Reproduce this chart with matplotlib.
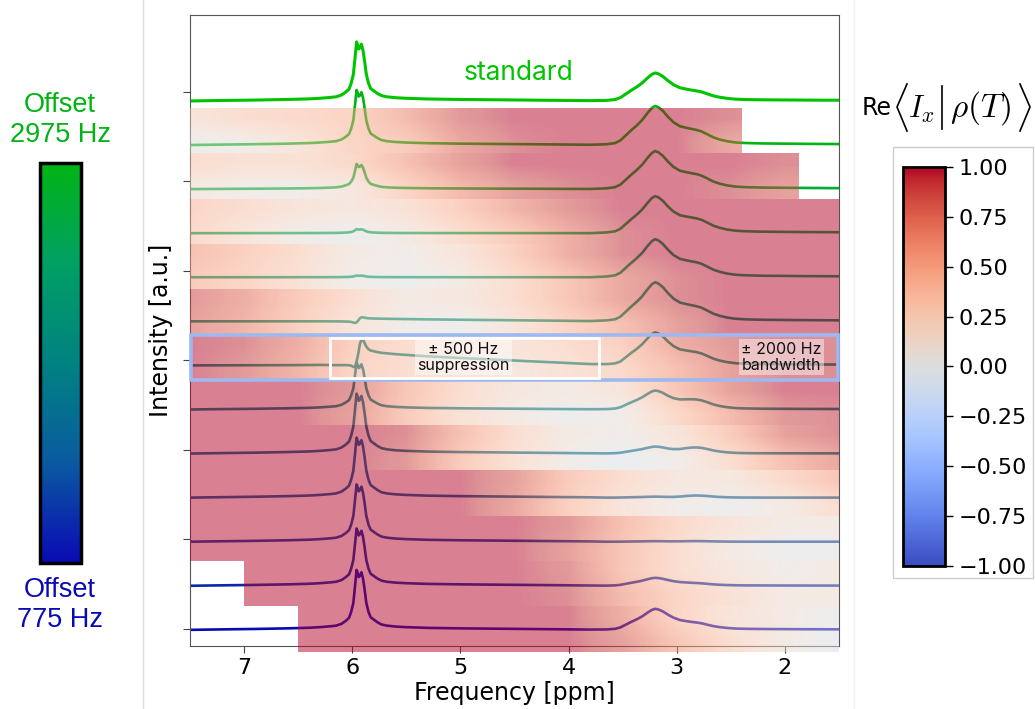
import numpy as np
import matplotlib
matplotlib.use("Agg")
import matplotlib.pyplot as plt
from matplotlib.colors import LinearSegmentedColormap, Normalize
from matplotlib.cm import ScalarMappable
from matplotlib.patches import Rectangle
from matplotlib.lines import Line2D

# ---- spectrum: ppm axis and line-shape components ----
ppm = [7.5, 7.2, 6.9, 6.6, 6.4, 6.3, 6.2, 6.15, 6.1, 6.06,
       6.03, 6.01, 5.99, 5.975, 5.96, 5.95, 5.94, 5.93, 5.915, 5.90,
       5.885, 5.87, 5.85, 5.83, 5.80, 5.77, 5.73, 5.68, 5.6, 5.5,
       5.3, 5.0, 4.7, 4.4, 4.1, 3.8, 3.65, 3.57, 3.52, 3.47,
       3.42, 3.37, 3.32, 3.27, 3.23, 3.20, 3.17, 3.13, 3.08, 3.03,
       2.97, 2.91, 2.86, 2.82, 2.77, 2.72, 2.66, 2.6, 2.53, 2.45,
       2.35, 2.2, 2.0, 1.8, 1.5]
# 5.9 ppm multiplet
peak_a = [0.0, 0.008, 0.015, 0.025, 0.035, 0.045, 0.06, 0.07, 0.1, 0.15,
          0.2, 0.3, 0.45, 0.72, 1.0, 0.95, 0.88, 0.9, 0.96, 0.85,
          0.66, 0.45, 0.3, 0.21, 0.17, 0.13, 0.09, 0.07, 0.055, 0.045,
          0.033, 0.025, 0.02, 0.015, 0.01, 0.005, 0, 0, 0, 0,
          0, 0, 0, 0, 0, 0, 0, 0, 0, 0,
          0, 0, 0, 0, 0, 0, 0, 0, 0, 0,
          0, 0, 0, 0, 0]
# dispersive part of the 5.9 ppm signal
disp_c = [0, 0, 0, 0, 0, 0, -0.02, -0.03, -0.05, -0.08,
          -0.13, -0.22, -0.4, -0.6, -0.45, -0.1, 0.3, 0.7, 0.95, 1.0,
          0.92, 0.86, 0.8, 0.78, 0.76, 0.74, 0.72, 0.7, 0.66, 0.62,
          0.54, 0.44, 0.35, 0.26, 0.17, 0.08, 0.04, 0.02, 0, 0,
          0, 0, 0, 0, 0, 0, 0, 0, 0, 0,
          0, 0, 0, 0, 0, 0, 0, 0, 0, 0,
          0, 0, 0, 0, 0]
# 3.2 ppm group
peak_b = [0, 0, 0, 0, 0, 0, 0, 0, 0, 0,
          0, 0, 0, 0, 0, 0, 0, 0, 0, 0,
          0, 0, 0, 0, 0, 0, 0, 0, 0, 0,
          0, 0, 0, 0, 0, 0, 0.02, 0.05, 0.12, 0.25,
          0.38, 0.5, 0.64, 0.82, 0.95, 1.0, 0.97, 0.88, 0.72, 0.56,
          0.4, 0.28, 0.2, 0.16, 0.13, 0.1, 0.08, 0.07, 0.06, 0.05,
          0.045, 0.04, 0.035, 0.03, 0.025]
# 2.8 ppm shoulder
peak_d = [0, 0, 0, 0, 0, 0, 0, 0, 0, 0,
          0, 0, 0, 0, 0, 0, 0, 0, 0, 0,
          0, 0, 0, 0, 0, 0, 0, 0, 0, 0,
          0, 0, 0, 0, 0, 0, 0, 0, 0, 0,
          0, 0, 0, 0, 0, 0, 0, 0, 0, 0.1,
          0.35, 0.7, 0.92, 1.0, 0.95, 0.78, 0.5, 0.3, 0.15, 0.06,
          0.02, 0, 0, 0, 0]

# ---- traces: standard first, then pulse offsets (Hz) ----
offsets_hz = [2975, 2775, 2575, 2375, 2175, 1975, 1775, 1575, 1375, 1175, 975, 775]
amp_a = [0.66, 0.615, 0.28, 0.045, 0.019, 0.006, 0.123, 0.525, 0.67, 0.67, 0.64, 0.64, 0.67]
amp_c = [0, 0, 0, 0, 0, 0.04, 0.18, 0, 0, 0, 0, 0, 0]
amp_b = [0.313, 0.436, 0.425, 0.413, 0.425, 0.436, 0.369, 0.212, 0.078, 0.011, 0.006, 0.089, 0.235]
amp_d = [0.063, 0.1, 0.1, 0.1, 0.1, 0.1, 0.09, 0.078, 0.056, 0.022, 0.006, 0.017, 0.045]
top_baseline = 5.90
row_step = 0.4925

# ---- Re<Ix|rho(T)> bands (top edge / bottom edge of each band) ----
band_ppm = [7.5, 7.0, 6.5, 6.0, 5.5, 5.0, 4.5, 4.0, 3.5, 3.0, 2.5, 2.0, 1.5]
band_top_vals = [
    [0.2, 0.3, 0.35, 0.4, 0.65, 0.9, 1.0, 1.0, 1.0, 1.0, 0.95, 0.9, 0.9],
    [0.3, 0.25, 0.25, 0.35, 0.6, 0.85, 1.0, 1.0, 1.0, 1.0, 1.0, 0.95, 0.95],
    [0.4, 0.3, 0.2, 0.15, 0.25, 0.45, 0.7, 0.9, 1.0, 1.0, 1.0, 1.0, 1.0],
    [0.6, 0.45, 0.3, 0.1, 0.05, 0.2, 0.45, 0.75, 0.95, 1.0, 1.0, 1.0, 1.0],
    [0.9, 0.75, 0.5, 0.3, 0.1, 0.15, 0.3, 0.55, 0.8, 0.95, 1.0, 1.0, 1.0],
    [1.0, 0.95, 0.75, 0.45, 0.3, 0.2, 0.2, 0.3, 0.45, 0.75, 0.9, 0.95, 0.95],
    [1.0, 1.0, 1.0, 0.9, 0.55, 0.3, 0.15, 0.1, 0.2, 0.55, 0.85, 1.0, 1.0],
    [1.0, 1.0, 1.0, 1.0, 0.95, 0.6, 0.3, 0.1, 0.05, 0.2, 0.5, 0.85, 0.95],
    [1.0, 1.0, 1.0, 1.0, 1.0, 1.0, 0.85, 0.5, 0.3, 0.15, 0.15, 0.35, 0.55],
    [1.0, 1.0, 1.0, 1.0, 1.0, 1.0, 1.0, 0.9, 0.6, 0.35, 0.2, 0.1, 0.1],
    [1.0, 1.0, 1.0, 1.0, 1.0, 1.0, 1.0, 0.9, 0.55, 0.3, 0.15, 0.05, 0.1],
    [1.0, 1.0, 1.0, 1.0, 1.0, 1.0, 1.0, 1.0, 0.75, 0.4, 0.2, 0.1, 0.0],
]
band_bot_vals = [
    [0.0, 0.05, 0.2, 0.4, 0.5, 0.8, 0.95, 1.0, 1.0, 1.0, 0.8, 0.7, 0.7],
    [0.1, 0.05, 0.05, 0.15, 0.4, 0.65, 0.85, 0.95, 1.0, 1.0, 0.95, 0.85, 0.85],
    [0.35, 0.2, 0.05, 0.0, 0.1, 0.3, 0.5, 0.75, 0.95, 1.0, 1.0, 1.0, 1.0],
    [0.5, 0.4, 0.25, 0.05, 0.0, 0.1, 0.3, 0.55, 0.8, 0.95, 1.0, 1.0, 1.0],
    [0.85, 0.7, 0.45, 0.2, 0.05, 0.0, 0.2, 0.4, 0.6, 0.85, 1.0, 1.0, 1.0],
    [1.0, 0.9, 0.7, 0.4, 0.3, 0.2, 0.15, 0.25, 0.35, 0.6, 0.85, 0.95, 0.95],
    [1.0, 1.0, 1.0, 0.85, 0.5, 0.25, 0.1, 0.0, 0.05, 0.35, 0.65, 0.9, 0.95],
    [1.0, 1.0, 1.0, 1.0, 0.9, 0.5, 0.25, 0.05, -0.05, 0.05, 0.3, 0.6, 0.8],
    [1.0, 1.0, 1.0, 1.0, 1.0, 1.0, 0.8, 0.45, 0.2, 0.05, 0.0, 0.1, 0.3],
    [1.0, 1.0, 1.0, 1.0, 1.0, 1.0, 1.0, 0.85, 0.55, 0.3, 0.1, 0.0, 0.0],
    [1.0, 1.0, 1.0, 1.0, 1.0, 1.0, 1.0, 0.95, 0.65, 0.4, 0.25, 0.1, 0.1],
    [1.0, 1.0, 1.0, 1.0, 1.0, 1.0, 1.0, 1.0, 0.85, 0.55, 0.3, 0.1, -0.05],
]
band_start = [7.5, 7.5, 7.5, 7.5, 7.5, 7.5, 7.5, 7.5, 7.5, 7.5, 7.0, 6.5]
band_end = [2.4, 1.87, 1.5, 1.5, 1.5, 1.5, 1.5, 1.5, 1.5, 1.5, 1.5, 1.5]
band_top0 = 5.82
band_step = 0.506
highlight_row = 5          # the 1975 Hz band
supp_lo, supp_hi = 3.72, 6.21

std_color = "#00c400"
# low offset (775 Hz) -> high offset (2975 Hz)
offset_colors = ["#0a0ab4", "#0a5aa0", "#008282", "#00a064", "#00b414"]
offset_cmap = LinearSegmentedColormap.from_list("offset", offset_colors)

fig = plt.figure(figsize=(10.35, 7.09), dpi=100)
ax = fig.add_axes([0.1836, 0.0889, 0.627, 0.8899])

x = np.array(ppm)
A, B, C, D = (np.array(v) for v in (peak_a, peak_b, disp_c, peak_d))
norm_off = Normalize(775, 2975)
for k in range(13):
    y = top_baseline - k * row_step + amp_a[k] * A + amp_b[k] * B + amp_c[k] * C + amp_d[k] * D
    if k == 0:
        col, lw = std_color, 2.2
    else:
        col, lw = offset_cmap(norm_off(offsets_hz[k - 1])), 1.9
    ax.plot(x, y, color=col, lw=lw, zorder=2, solid_capstyle="round")

# bands on top of the traces, semi transparent
half = (band_ppm[0] - band_ppm[1]) / 2
for i in range(12):
    top = band_top0 - i * band_step
    bot = top - band_step
    img = np.array([band_top_vals[i], band_bot_vals[i]])
    im = ax.imshow(img, cmap="coolwarm", vmin=-1, vmax=1, alpha=0.5, aspect="auto",
                   extent=(band_ppm[0] + half, band_ppm[-1] - half, bot, top),
                   interpolation="bilinear", zorder=3)
    clip = Rectangle((band_end[i], bot), band_start[i] - band_end[i], top - bot,
                     transform=ax.transData)
    im.set_clip_path(clip)

hb_top = band_top0 - highlight_row * band_step
hb_bot = hb_top - band_step
ax.add_patch(Rectangle((1.51, hb_bot), 5.98, band_step, fill=False,
                       edgecolor="#9cb9f2", lw=2.6, zorder=5, clip_on=False))
ax.add_patch(Rectangle((supp_lo, hb_bot + 0.02), supp_hi - supp_lo, band_step - 0.06,
                       fill=False, edgecolor="white", lw=2, zorder=5))

ax.text(4.97, (hb_top + hb_bot) / 2, "± 500 Hz\nsuppression", fontsize=11.5, family="Inter",
        ha="center", va="center", zorder=6, linespacing=1.1, color="#111111",
        bbox=dict(facecolor="white", alpha=0.45, edgecolor="none", pad=1.5))
ax.text(2.03, (hb_top + hb_bot) / 2, "± 2000 Hz\nbandwidth", fontsize=11.5, family="Inter",
        ha="center", va="center", zorder=6, linespacing=1.1, color="#111111",
        bbox=dict(facecolor="white", alpha=0.45, edgecolor="none", pad=1.5))
ax.text(4.46, 6.21, "standard", color=std_color, fontsize=19, family="Inter",
        ha="center", va="center")

ax.set_xlim(7.5, 1.5)
ax.set_ylim(-0.19, 6.86)
ax.set_xticks([7, 6, 5, 4, 3, 2])
ax.set_yticks(range(7))
ax.set_yticklabels([])
ax.tick_params(axis="x", labelsize=16, length=5, color="#444444")
ax.tick_params(axis="y", length=5, color="#444444")
for s in ax.spines.values():
    s.set_color("#555555")
ax.set_xlabel("Frequency [ppm]", fontsize=17, labelpad=2)
ax.set_ylabel("Intensity [a.u.]", fontsize=17)

# offset colour bar on the left
cax = fig.add_axes([0.0386, 0.2059, 0.0396, 0.5642])
cb = fig.colorbar(ScalarMappable(norm=norm_off, cmap=offset_cmap), cax=cax)
cb.set_ticks([])
cb.outline.set_linewidth(2.5)
fig.text(0.058, 0.831, "Offset\n2975 Hz", color=offset_colors[-1], fontsize=19.5,
         family="Liberation Sans", ha="center", va="center")
fig.text(0.058, 0.146, "Offset\n775 Hz", color=offset_colors[0], fontsize=19.5,
         family="Liberation Sans", ha="center", va="center")

# Re<Ix|rho> colour bar on the right
fig.add_artist(Rectangle((0.8628, 0.1848), 0.1353, 0.6079, transform=fig.transFigure,
                         fill=False, edgecolor="#cccccc", lw=1))
cax2 = fig.add_axes([0.8725, 0.2017, 0.0406, 0.5628])
cb2 = fig.colorbar(ScalarMappable(norm=Normalize(-1, 1), cmap="coolwarm"), cax=cax2,
                   ticks=np.linspace(-1, 1, 9))
cb2.outline.set_linewidth(2)
cb2.ax.tick_params(labelsize=16, length=6, width=1)

# colour bar title: Re <I_x | rho(T)> with tall brackets
W, H = 1035, 709
def fpt(px, py):
    return px / W, 1 - py / H
fig.text(*fpt(862, 108), "Re", fontsize=17, ha="left", va="center")
fig.text(*fpt(908, 109), r"$I_x$", fontsize=22, ha="left", va="center", math_fontfamily="cm")
fig.text(*fpt(950, 108), r"$\rho(T)$", fontsize=24, ha="left", va="center", math_fontfamily="cm")
for pts in (((907, 84), (897, 107), (907, 131)), ((942, 86), (942, 129)),
            ((1020, 84), (1030, 107), (1020, 131))):
    xs, ys = zip(*(fpt(px, py) for px, py in pts))
    fig.add_artist(Line2D(xs, ys, transform=fig.transFigure, color="black", lw=1.2))

for xf, c in ((143 / W, "#dddddd"), (854 / W, "#f2f2f2")):
    fig.add_artist(Line2D([xf, xf], [0, 1], transform=fig.transFigure, color=c, lw=1))

fig.savefig("out.png", dpi=100)
